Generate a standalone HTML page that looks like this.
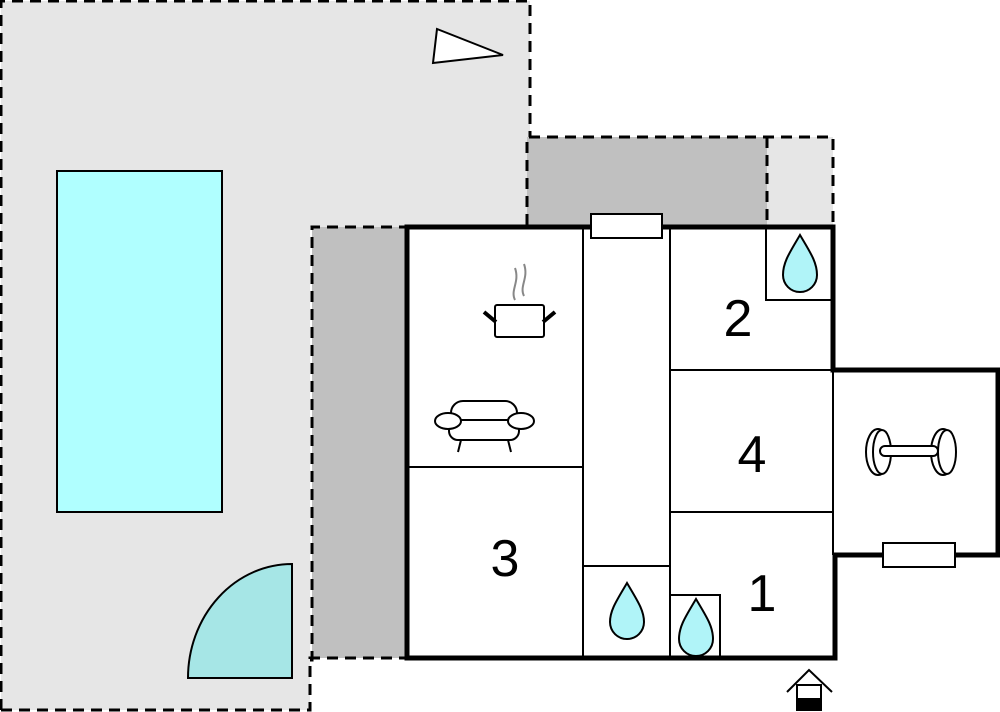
<!DOCTYPE html>
<html><head><style>html,body{margin:0;padding:0;background:#fff}svg{display:block}</style></head>
<body>
<svg width="1000" height="712" viewBox="0 0 1000 712" xmlns="http://www.w3.org/2000/svg" font-family="Liberation Sans, sans-serif">
<!-- yard -->
<polygon points="1,1 530,1 530,227 310,227 310,710 1,710" fill="#e6e6e6"/>
<rect x="527" y="137" width="240" height="90" fill="#c0c0c0"/>
<rect x="767" y="137" width="66" height="90" fill="#e6e6e6"/>
<rect x="312" y="227" width="95" height="431" fill="#c0c0c0"/>
<g fill="none" stroke="#000" stroke-width="3" stroke-dasharray="11,7">
<polyline points="1,710 1,1 530,1 530,137"/>
<polyline points="1,710 310,710 310,658 407,658"/>
<polyline points="310,660 312,660 312,227 407,227"/>
<polyline points="527,225 527,137 833,137 833,227"/>
<line x1="767" y1="137" x2="767" y2="227"/>
</g>
<!-- pool -->
<rect x="57" y="171" width="165" height="341" fill="#b0ffff" stroke="#000" stroke-width="2"/>
<path d="M188,678 A104,114 0 0 1 292,564 L292,678 Z" fill="#a6e6e6" stroke="#000" stroke-width="2"/>
<polygon points="437,29 433,63 503,55" fill="#fff" stroke="#000" stroke-width="2"/>
<!-- house -->
<rect x="407" y="227" width="426" height="431" fill="#fff"/>
<rect x="833" y="370" width="165" height="185" fill="#fff"/>
<g stroke="#000" stroke-width="2" fill="none">
<line x1="583" y1="227" x2="583" y2="658"/>
<line x1="670" y1="227" x2="670" y2="658"/>
<line x1="407" y1="467" x2="583" y2="467"/>
<line x1="583" y1="566" x2="670" y2="566"/>
<line x1="670" y1="370" x2="833" y2="370"/>
<line x1="670" y1="512" x2="833" y2="512"/>
<line x1="833" y1="370" x2="833" y2="555"/>
<polyline points="670,595 720,595 720,658"/>
<polyline points="766,227 766,300 833,300"/>
</g>
<g stroke="#000" stroke-width="5" fill="none" stroke-linecap="square">
<polyline points="407,658 407,227 833,227 833,370 998,370 998,555 835,555 835,658 407,658"/>
</g>
<rect x="591" y="214" width="71" height="24" fill="#fff" stroke="#000" stroke-width="2"/>
<rect x="883" y="543" width="72" height="24" fill="#fff" stroke="#000" stroke-width="2"/>
<!-- drops -->
<g fill="#b0f4f8" stroke="#000" stroke-width="2">
<path d="M800,235 C790,252 783,262 783,275 A17,17 0 0 0 817,275 C817,262 810,252 800,235 Z"/>
<path d="M627,583 C617,600 610,610 610,622 A17,17 0 0 0 644,622 C644,610 637,600 627,583 Z"/>
<path d="M696,599 C686,616 679,626 679,639 A17,17 0 0 0 713,639 C713,626 706,616 696,599 Z"/>
</g>
<!-- labels -->
<g font-size="52" fill="#000" text-anchor="middle">
<text x="738" y="336">2</text>
<text x="752" y="472">4</text>
<text x="505" y="576">3</text>
<text x="762" y="611">1</text>
</g>
<!-- pot -->
<g stroke="#000" stroke-width="2" fill="#fff">
<rect x="495" y="305" width="49" height="32" rx="2"/>
<path d="M484,312 L496,322 M555,312 L543,322" stroke-width="4"/>
</g>
<path d="M515,300 C510,290 520,282 515,268 M524,296 C519,286 529,278 524,264" stroke="#888" stroke-width="2" fill="none"/>
<!-- sofa -->
<g stroke="#000" stroke-width="2" fill="#fff">
<rect x="451" y="401" width="66" height="30" rx="12"/>
<rect x="449" y="420" width="70" height="20" rx="9"/>
<ellipse cx="448" cy="421" rx="13" ry="8"/>
<ellipse cx="521" cy="421" rx="13" ry="8"/>
<path d="M461,440 L458,452 M508,440 L511,452" fill="none"/>
</g>
<!-- dumbbell -->
<g stroke="#000" stroke-width="2" fill="#fff">
<ellipse cx="878" cy="452" rx="12" ry="23"/>
<ellipse cx="882" cy="452" rx="9" ry="22"/>
<ellipse cx="943" cy="452" rx="12" ry="23"/>
<ellipse cx="947" cy="452" rx="9" ry="22"/>
<rect x="880" y="446" width="58" height="10" rx="5"/>
</g>
<!-- entrance -->
<g stroke="#000" stroke-width="2" fill="none">
<polyline points="787,692 809,670 832,692"/>
<rect x="797" y="685" width="24" height="14" fill="#fff"/>
</g>
<rect x="796" y="699" width="26" height="12" fill="#000"/>
</svg>
</body></html>
